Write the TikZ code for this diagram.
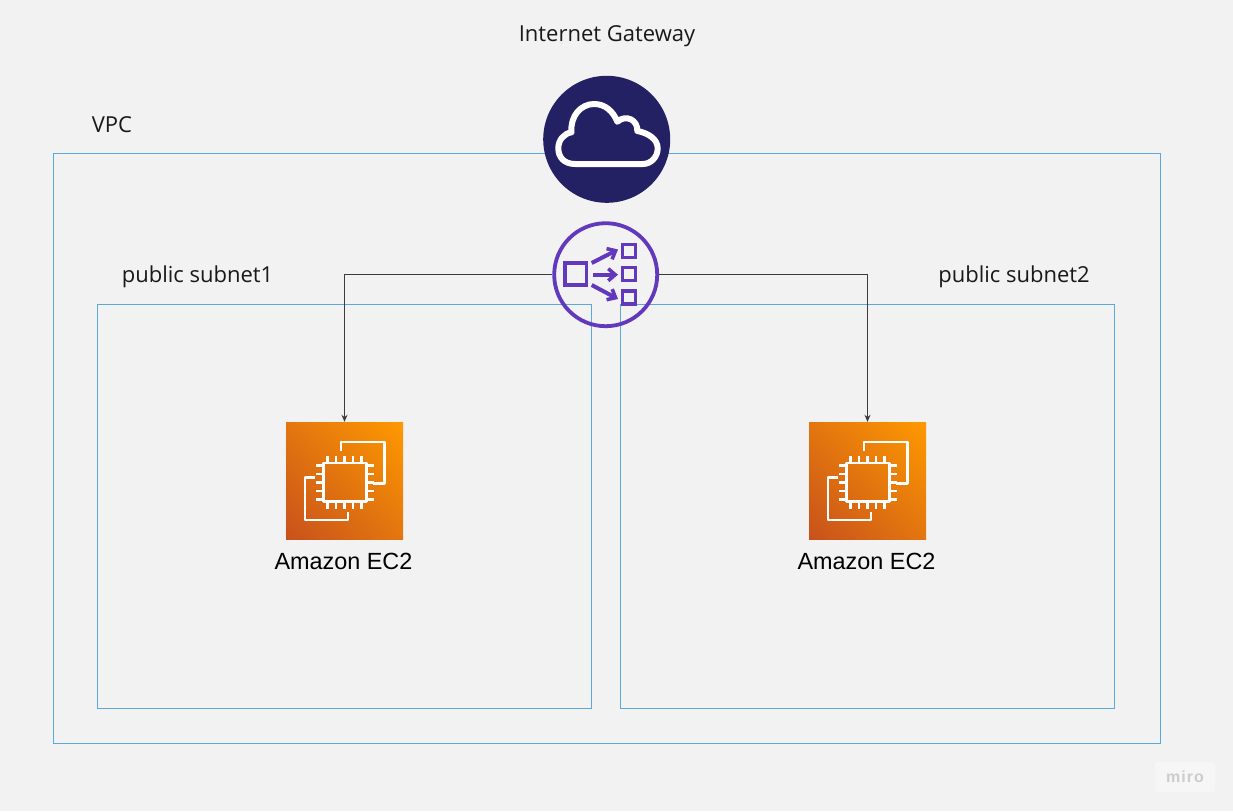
\documentclass[tikz,border=0pt]{standalone}
\usepackage{fontspec}
\setmainfont{Open Sans}
\newfontfamily\awsfont{Liberation Sans}
\usetikzlibrary{arrows.meta,shadings}
\definecolor{bgcolor}{HTML}{F2F2F2}
\definecolor{boxblue}{HTML}{5BA8DC}
\definecolor{igwnavy}{HTML}{232163}
\definecolor{elbpurple}{HTML}{6239BD}
\definecolor{ec2dark}{HTML}{C8511B}
\definecolor{ec2mid}{HTML}{E3760F}
\definecolor{ec2light}{HTML}{FF9900}
\definecolor{linkgray}{HTML}{3C3C3C}
\tikzset{
    regionbox/.style={draw=boxblue, line width=0.9pt},
    caption/.style={inner sep=0pt, font=\fontsize{22}{26}\selectfont, text=black!90},
    ec2label/.style={inner sep=0pt, font=\awsfont\fontsize{23.4}{28}\selectfont, text=black},
    link/.style={draw=linkgray, line width=0.8pt, -{Stealth[length=7pt, width=6pt]}},
    chipline/.style={draw=white, line width=2.4pt, line join=round},
    elbline/.style={draw=elbpurple, line width=3.8pt},
    elbarrow/.style={elbpurple, line width=4pt, -{Straight Barb[length=7pt, width=12pt, line width=3.6pt]}},
}
\begin{document}
\begin{tikzpicture}[x=1pt, y=-1pt]
    % 背景
    \fill[bgcolor] (0,0) rectangle (1233,811);
    \useasboundingbox (0,0) rectangle (1233,811);

    % VPC and subnets
    \draw[regionbox] (53.5,153.5) rectangle (1160.5,743);
    \draw[regionbox] (97.5,304.5) rectangle (591.5,708.5);
    \draw[regionbox] (620.5,304.5) rectangle (1114.5,708.5);

    % labels
    \node[caption] (igwlabel) at (607,36) {Internet Gateway};
    \node[caption] (vpclabel) at (112,125) {VPC};
    \node[caption] (sublabela) at (197.5,277) {public subnet1};
    \node[caption] (sublabelb) at (1014,277) {public subnet2};

    % gateway
    \node[circle, fill=igwnavy, minimum size=127pt, inner sep=0pt] (igw) at (606.7,139.3) {};
    \draw[white, line width=6pt, line join=round]
        (575,164) .. controls (564,164) and (558.3,157) .. (558.3,148.3)
        .. controls (558.3,140) and (564,133.5) .. (571.5,132.3)
        .. controls (570,116) and (581,104) .. (594,104)
        .. controls (605,104) and (613,111) .. (617.3,121.7)
        .. controls (626,114) and (638,120) .. (637.3,131)
        .. controls (648,133) and (657.7,139) .. (657.7,148.3)
        .. controls (657.7,157) and (651,164) .. (642.7,164)
        -- cycle;

    % load balancer
    \node[circle, elbline, minimum size=103pt, inner sep=0pt] (elb) at (605.7,274.7) {};
    \draw[elbline] (565,263) rectangle (586.5,285);
    \foreach \ytop in {244.5,267.5,291}
        \draw[elbline] (622.5,\ytop) rectangle (635.5,\ytop+13);
    \draw[elbarrow] (591.7,263) -- (618,249.5);
    \draw[elbarrow] (593,274.7) -- (618,274.7);
    \draw[elbarrow] (591.7,285) -- (618,299);

    % EC2
    \foreach \nm/\dx in {ec2a/0, ec2b/523} {
        \begin{scope}[xshift=\dx pt]
            \node[minimum size=117pt, inner sep=0pt, lower left=ec2dark, upper right=ec2light,
                upper left=ec2mid, lower right=ec2mid, shade] (\nm) at (344.5,480.5) {};
            \draw[chipline] (341,451) -- (341,441.7) -- (384.3,441.7) -- (384.3,483.3) -- (373.3,483.3);
            \draw[chipline] (315,477.3) -- (305,477.3) -- (305,520) -- (347.7,520) -- (347.7,511.7);
            \draw[chipline] (323.5,463) rectangle (366.5,501.5);
            \foreach \p in {0,...,4} {
                \draw[chipline] (327.5+\p*8.5,455.5) -- (327.5+\p*8.5,463);
                \draw[chipline] (327.5+\p*8.5,501.5) -- (327.5+\p*8.5,509);
                \draw[chipline] (316,465.5+\p*8.5) -- (323.5,465.5+\p*8.5);
                \draw[chipline] (366.5,465.5+\p*8.5) -- (374,465.5+\p*8.5);
            }
        \end{scope}
    }
    \node[ec2label] (ec2alabel) at (343.5,561.5) {Amazon EC2};
    \node[ec2label] (ec2blabel) at (866.5,561.5) {Amazon EC2};

    % connectors
    \draw[link] (elb.west) -| (ec2a.north);
    \draw[link] (elb.east) -| (ec2b.north);

    % miro
    \node[fill=white!30!bgcolor, rounded corners=3pt, minimum width=60pt, minimum height=30pt,
        inner sep=0pt, text=black!20, font=\awsfont\bfseries\fontsize{16}{18}\selectfont] (miro) at (1185,777) {\addfontfeature{LetterSpace=6}miro};
\end{tikzpicture}
\end{document}
